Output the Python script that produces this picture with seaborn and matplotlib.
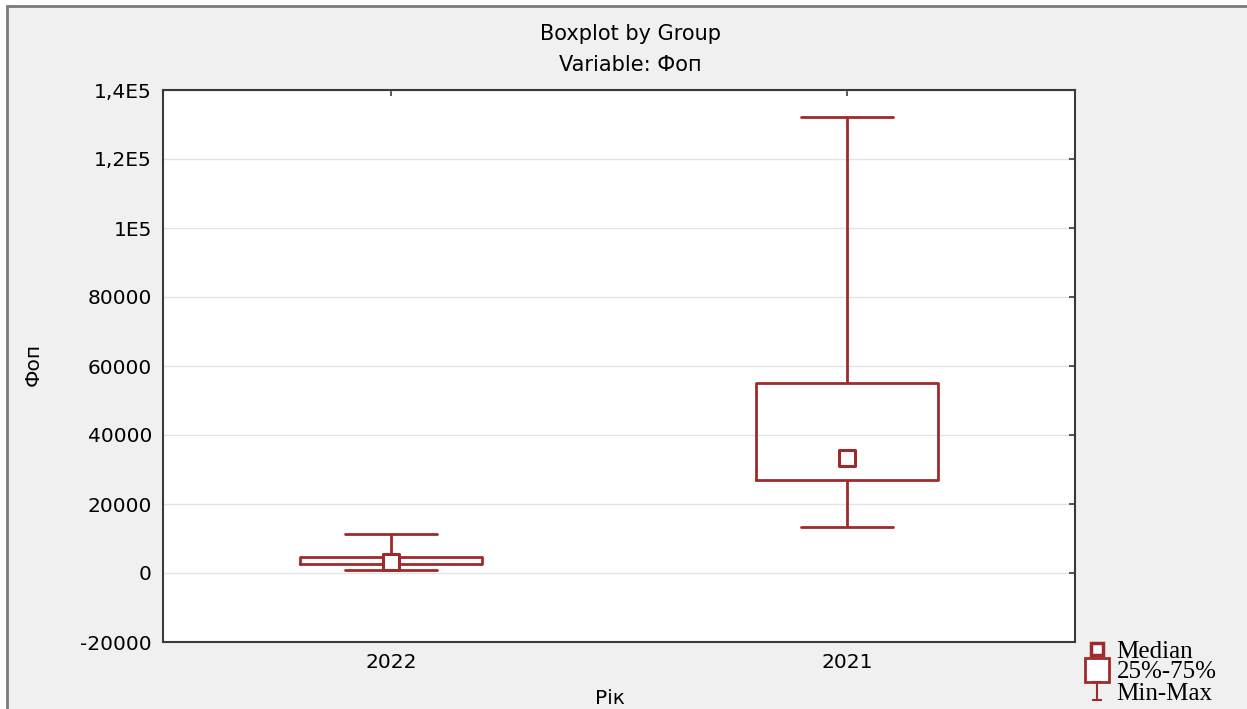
import numpy as np
import pandas as pd
import matplotlib
matplotlib.use("Agg")
import matplotlib.pyplot as plt
import seaborn as sns
from matplotlib.lines import Line2D
from matplotlib.patches import Rectangle
from matplotlib.path import Path
from matplotlib.markers import MarkerStyle

# ---- data (five-number summaries) ----
groups = ["2022", "2021"]
mins = [870, 13300]
q1s = [2500, 26950]
medians = [3050, 33250]
q3s = [4700, 55150]
maxs = [11300, 132200]

yticks = [-20000, 0, 20000, 40000, 60000, 80000, 100000, 120000, 140000]
ytick_labels = ["-20000", "0", "20000", "40000", "60000", "80000", "1E5", "1,2E5", "1,4E5"]
title_lines = ["Boxplot by Group", "Variable: Фоп"]
x_label = "Рік"
y_label = "Фоп"
legend_labels = ["Median", "25%-75%", "Min-Max"]

RED = "#9e2a2b"

rows = []
for g, a, b, c, d, e in zip(groups, mins, q1s, medians, q3s, maxs):
    for v in (a, b, c, d, e):
        rows.append({x_label: g, y_label: v})
df = pd.DataFrame(rows)

sns.set_theme(style="white")
plt.rcParams["font.family"] = ["DejaVu Sans"]
plt.rcParams["text.color"] = "black"
plt.rcParams["axes.labelcolor"] = "black"

W, H = 1247, 709
fig = plt.figure(figsize=(W / 100, H / 100), dpi=100, facecolor="white")
fig.patches.append(Rectangle((7 / W, -0.02), 1.1, 1 - 6 / H + 0.02, transform=fig.transFigure,
                             facecolor="#f0f0f0", edgecolor="#7a7a7a", lw=2, zorder=-10))

ax = fig.add_axes([163 / W, 1 - 642 / H, 912 / W, 552 / H])
ax.set_facecolor("white")

sns.boxplot(data=df, x=x_label, y=y_label, order=groups, whis=(0, 100), width=0.4,
            fill=False, color=RED, linewidth=2, showfliers=False,
            medianprops={"visible": False}, ax=ax)
sns.stripplot(x=groups, y=medians, order=groups, jitter=False, marker="s", size=12,
              color="white", edgecolor=RED, linewidth=2.2, ax=ax, zorder=5)

ax.set_ylim(-20000, 140000)
ax.set_xlim(-0.5, 1.5)
ax.set_yticks(yticks)
ax.set_yticklabels(ytick_labels)
ax.set_axisbelow(True)
ax.yaxis.grid(True, color="#e3e3e3", lw=1)
ax.xaxis.grid(False)
ax.tick_params(direction="in", length=4, width=1.2, top=True, right=True,
               labelsize=14.5, pad=8, color="#3a3a3a", labelcolor="black")
for s in ax.spines.values():
    s.set_color("#3a3a3a")
    s.set_linewidth(1.5)

ax.set_xlabel(x_label, fontsize=14.5)
ax.set_ylabel(y_label, fontsize=14.5)
ax.xaxis.set_label_coords(0.49, -0.085)
ax.yaxis.set_label_coords(-0.132, 0.502)

fig.text(630 / W, 1 - 34 / H, title_lines[0], ha="center", va="center", fontsize=15)
fig.text(630 / W, 1 - 65 / H, title_lines[1], ha="center", va="center", fontsize=15)

ibeam = Path([(-0.5, 1), (0.5, 1), (0, 1), (0, -1), (-0.5, -1), (0.5, -1)],
             [Path.MOVETO, Path.LINETO, Path.MOVETO, Path.LINETO, Path.MOVETO, Path.LINETO])
handles = [
    Line2D([], [], ls="none", marker="s", markersize=9, mfc="white", mec=RED, mew=2.5),
    Line2D([], [], ls="none", marker="s", markersize=17, mfc="white", mec=RED, mew=2),
    Line2D([], [], ls="none", marker=MarkerStyle(ibeam), markersize=13, mec=RED, mew=1.5),
]
fig.legend(handles, legend_labels, loc="upper left", bbox_to_anchor=(1084 / W, 1 - 640 / H),
           frameon=False, prop={"family": "Liberation Serif", "size": 18},
           handlelength=1.0, handletextpad=0.3, labelspacing=-0.06, borderpad=0, borderaxespad=0,
           labelcolor="black")

fig.savefig("out.png", dpi=100, facecolor=fig.get_facecolor())
